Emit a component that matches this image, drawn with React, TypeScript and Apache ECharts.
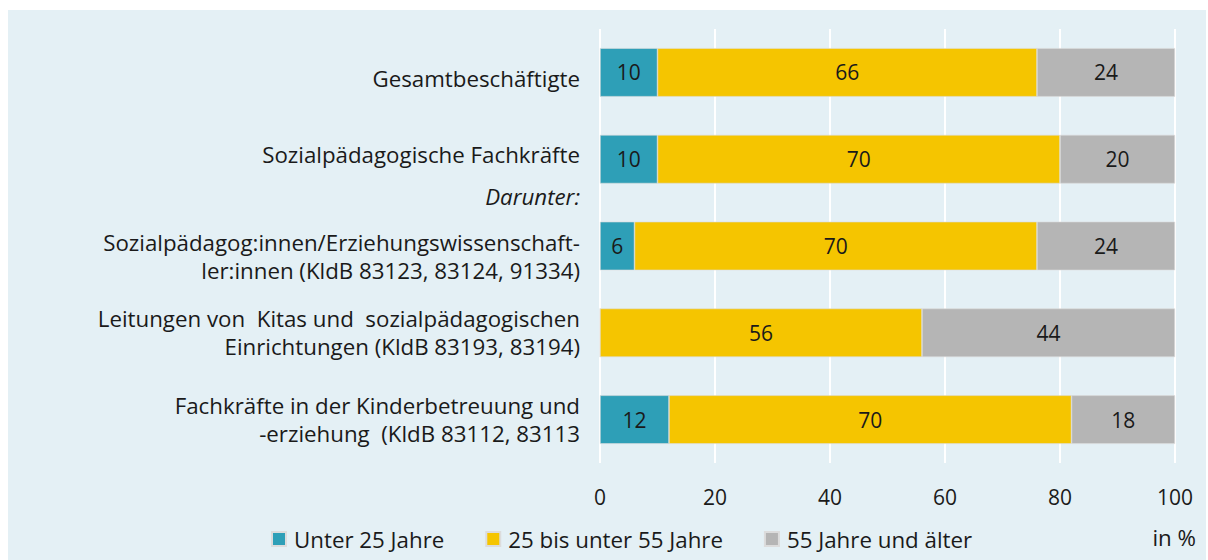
import React, { useEffect, useRef } from "react";
import * as echarts from "echarts";

const categories = [
  "Gesamtbeschäftigte",
  "Sozialpädagogische Fachkräfte",
  "Sozialpädagog:innen/Erziehungswissenschaft-\nler:innen (KldB 83123, 83124, 91334)",
  "Leitungen von  Kitas und  sozialpädagogischen\nEinrichtungen (KldB 83193, 83194)",
  "Fachkräfte in der Kinderbetreuung und\n-erziehung  (KldB 83112, 83113",
];
const seriesNames = ["Unter 25 Jahre", "25 bis unter 55 Jahre", "55 Jahre und älter"];
const under25 = [10, 10, 6, 0, 12];
const between25and55 = [66, 70, 70, 56, 70];
const over55 = [24, 20, 24, 44, 18];
const xTicks = [0, 20, 40, 60, 80, 100];

const colors = ["#2E9FB7", "#F5C500", "#B5B5B5"];
const FONT = "Open Sans";
const LABEL_SIZE = 22.3;
const NUM_SIZE = 21;
const LH = 28;

export default function App() {
  const ref = useRef<HTMLDivElement>(null);
  useEffect(() => {
    if (!ref.current) return;
    const chart = echarts.init(ref.current, null, { renderer: "svg" });
    const values = [under25, between25and55, over55];
    chart.setOption({
      animation: false,
      backgroundColor: "#E4F0F5",
      textStyle: { fontFamily: FONT },
      grid: { left: 592, right: 31, top: 19, bottom: 97, containLabel: false },
      xAxis: {
        type: "value",
        min: xTicks[0],
        max: xTicks[xTicks.length - 1],
        interval: 20,
        axisLine: { show: false },
        axisTick: { show: false },
        axisLabel: { fontSize: NUM_SIZE, color: "#1a1a1a", margin: 23, fontFamily: FONT },
        splitLine: { show: true, lineStyle: { color: "#ffffff", width: 2 } },
      },
      yAxis: {
        type: "category",
        inverse: true,
        data: categories,
        axisLine: { show: false },
        axisTick: { show: false },
        axisLabel: {
          fontSize: LABEL_SIZE,
          color: "#1a1a1a",
          margin: 20,
          lineHeight: LH,
          align: "right",
          fontFamily: FONT,
          formatter: (v: string, i: number) => {
            const lines = v.split("\n").map((l) => `{n|${l}}`);
            if (i === 0) return ["{a| }", ...lines].join("\n");
            if (i === 1) return [...lines, "{b| }"].join("\n");
            if (i === 2) return ["{s| }", ...lines].join("\n");
            return lines.join("\n");
          },
          rich: {
            a: { fontSize: 1, lineHeight: 12, align: "right" },
            b: { fontSize: 1, lineHeight: 10, align: "right" },
            s: { fontSize: 1, lineHeight: 20, align: "right" },
            n: { fontSize: LABEL_SIZE, lineHeight: LH, color: "#1a1a1a", fontFamily: FONT, align: "right" },
          },
        },
      },
      legend: {
        left: 258,
        top: 513,
        itemWidth: 14,
        itemHeight: 14,
        itemGap: 41,
        icon: "rect",
        textStyle: { fontSize: LABEL_SIZE, color: "#1a1a1a", fontFamily: FONT, padding: [0, 0, 0, 3] },
        data: seriesNames,
      },
      graphic: [
        {
          type: "text",
          right: 626,
          top: 175,
          style: { text: "Darunter:", fontSize: LABEL_SIZE, fontStyle: "italic", fill: "#1a1a1a", fontFamily: FONT },
        },
        {
          type: "text",
          right: 10,
          top: 516,
          style: { text: "in %", fontSize: LABEL_SIZE, fill: "#1a1a1a", fontFamily: FONT },
        },
      ],
      series: seriesNames.map((name, si) => ({
        name,
        type: "bar",
        stack: "total",
        barWidth: "56%",
        data: values[si],
        itemStyle: { color: colors[si], borderColor: "#dcdcdc", borderWidth: 0.6 },
        label: {
          show: true,
          position: "inside",
          fontSize: NUM_SIZE,
          color: "#1a1a1a",
          fontFamily: FONT,
          formatter: (p: any) => (p.value > 0 ? String(p.value) : ""),
        },
      })),
    });
    return () => chart.dispose();
  }, []);
  return (
    <div
      ref={ref}
      style={{ position: "absolute", left: 8, top: 10, width: 1198, height: 550 }}
    />
  );
}
